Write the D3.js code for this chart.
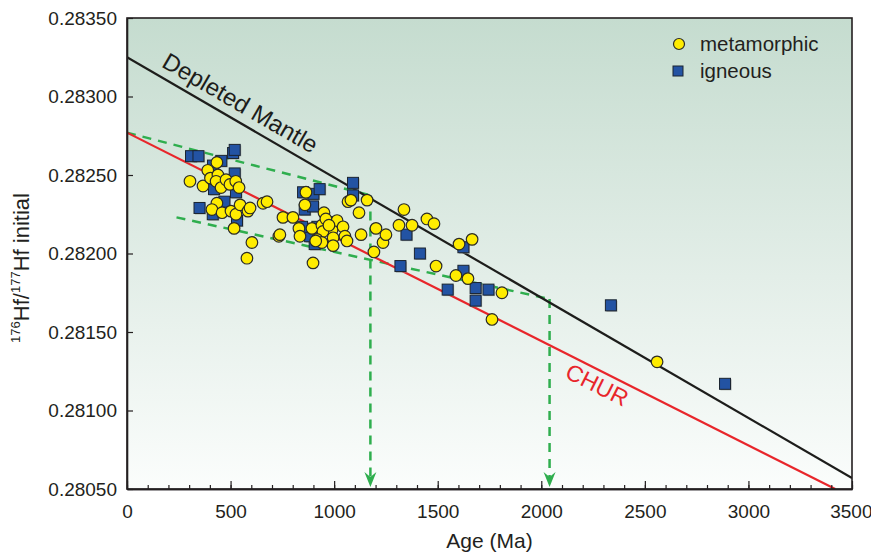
<!DOCTYPE html>
<html><head><meta charset="utf-8">
<script src="https://cdn.jsdelivr.net/npm/d3@7"></script>
<style>
body{margin:0;background:#fff;}
svg{display:block;font-family:"Liberation Sans",Arial,Helvetica,sans-serif;}
</style></head>
<body>
<svg id="chart" width="871" height="554"></svg>
<script>
// ---------- data ----------
const xTicksMajor = [0,500,1000,1500,2000,2500,3000,3500];
const xTicksMinor = d3.range(0,3501,100);
const yTicks = [0.28050,0.28100,0.28150,0.28200,0.28250,0.28300,0.28350];

const igneousAge = [309,345,415,455,512,520,520,526,420,350,414,470,531,
  850,900,930,858,898,919,906,884,966,845,1091,1091,
  1349,1414,1320,1624,1624,1548,1683,1683,1745,2336,2887];
const igneousHf = [0.28262,0.28262,0.28256,0.28259,0.28264,0.28266,0.28251,0.28239,0.28241,0.28229,0.28225,0.28233,0.28221,
  0.28239,0.28238,0.28241,0.28228,0.28230,0.28217,0.28206,0.28211,0.28220,0.28217,0.28245,0.28237,
  0.28212,0.28200,0.28192,0.28189,0.28204,0.28177,0.28178,0.28170,0.28177,0.28167,0.28117];

const metaAge = [304,367,390,434,403,439,430,454,478,497,525,541,434,410,459,502,526,546,584,594,517,657,676,603,579,733,738,
  864,859,753,801,830,835,893,951,941,990,1014,1043,946,917,941,995,995,1052,1062,898,1067,1081,1159,1120,1202,1130,1236,1250,1192,911,960,975,
  1337,1313,1376,1448,1482,1603,1666,1492,1588,1646,1810,1762,2559];
const metaHf = [0.28246,0.28243,0.28253,0.28258,0.28248,0.28250,0.28246,0.28242,0.28247,0.28244,0.28246,0.28242,0.28232,0.28228,0.28226,0.28227,0.28225,0.28231,0.28227,0.28229,0.28216,0.28232,0.28233,0.28207,0.28197,0.28211,0.28212,
  0.28239,0.28231,0.28223,0.28223,0.28216,0.28211,0.28216,0.28226,0.28218,0.28215,0.28221,0.28217,0.28214,0.28209,0.28207,0.28210,0.28205,0.28211,0.28208,0.28194,0.28233,0.28234,0.28234,0.28226,0.28216,0.28212,0.28207,0.28212,0.28201,0.28208,0.28222,0.28218,
  0.28228,0.28218,0.28218,0.28222,0.28219,0.28206,0.28209,0.28192,0.28186,0.28184,0.28175,0.28158,0.28131];

const depletedMantle = [[0,0.28325],[3500,0.28057]];
const chur = [[0,0.28277],[3419,0.28050]];
const dashUpper = [[0,0.28277],[1175,0.28237]];
const dashLower = [[239,0.28223],[2040,0.28171]];
const modelAges = [[1175,0.28237],[2040,0.28171]];

// ---------- layout ----------
const svg = d3.select("#chart");
const L=127,R=852,T=18,B=489;
const x = d3.scaleLinear().domain([0,3500]).range([L,R]);
const y = d3.scaleLinear().domain([0.2805,0.2835]).range([B,T]);

const defs = svg.append("defs");
const grad = defs.append("linearGradient").attr("id","bg").attr("x1",0).attr("y1",0).attr("x2",0).attr("y2",1);
grad.append("stop").attr("offset","0%").attr("stop-color","#c5dccf");
grad.append("stop").attr("offset","55%").attr("stop-color","#e3eee8");
grad.append("stop").attr("offset","100%").attr("stop-color","#fbfdfc");
defs.append("clipPath").attr("id","clip").append("rect").attr("x",L).attr("y",T).attr("width",R-L).attr("height",B-T);

svg.append("rect").attr("x",L).attr("y",T).attr("width",R-L).attr("height",B-T).attr("fill","url(#bg)");

const line = d3.line().x(d=>x(d[0])).y(d=>y(d[1]));
const g = svg.append("g").attr("clip-path","url(#clip)");

const green = "#2fae4e";
[dashUpper,dashLower].forEach(d=>{
  g.append("path").attr("d",line(d)).attr("fill","none").attr("stroke",green).attr("stroke-width",2.5).attr("stroke-dasharray","9,7");
});
modelAges.forEach(d=>{
  g.append("line").attr("x1",x(d[0])).attr("x2",x(d[0])).attr("y1",y(d[1])).attr("y2",y(0.2805)-12)
    .attr("stroke",green).attr("stroke-width",2.5).attr("stroke-dasharray","9,7");
  g.append("path").attr("transform",`translate(${x(d[0])},${y(0.2805)-2})`)
    .attr("d","M0,0 L-6,-15 L0,-10 L6,-15 Z").attr("fill",green);
});

g.append("path").attr("d",line(chur)).attr("fill","none").attr("stroke","#e8262b").attr("stroke-width",2.2);
g.append("path").attr("d",line(depletedMantle)).attr("fill","none").attr("stroke","#1d1d1b").attr("stroke-width",2.2);

function lineLabel(pts, t, offset, text, color, size){
  const x0=x(pts[0][0]), y0=y(pts[0][1]), x1=x(pts[1][0]), y1=y(pts[1][1]);
  const ang = Math.atan2(y1-y0,x1-x0)*180/Math.PI;
  const v0 = pts[0][1] + (pts[1][1]-pts[0][1])*(t-pts[0][0])/(pts[1][0]-pts[0][0]);
  svg.append("g").attr("transform",`translate(${x(t)},${y(v0)}) rotate(${ang})`)
    .append("text").attr("x",0).attr("y",offset).attr("text-anchor","middle")
    .attr("font-size",size).attr("fill",color).text(text);
}
lineLabel(depletedMantle, 505, -9, "Depleted Mantle", "#1d1d1b", 24);
lineLabel(chur, 2300, 22, "CHUR", "#e8262b", 23);

const igneous = igneousAge.map((a,i)=>[a,igneousHf[i]]);
const meta = metaAge.map((a,i)=>[a,metaHf[i]]);
const s=11;
g.selectAll("rect.sh").data(igneous).join("rect").attr("class","sh")
  .attr("x",d=>x(d[0])-s/2+1).attr("y",d=>y(d[1])-s/2+1).attr("width",s).attr("height",s).attr("fill","#8a8f8c").attr("opacity",0.7);
g.selectAll("rect.ig").data(igneous).join("rect").attr("class","ig")
  .attr("x",d=>x(d[0])-s/2).attr("y",d=>y(d[1])-s/2).attr("width",s).attr("height",s)
  .attr("fill","#2353a3").attr("stroke","#1b2430").attr("stroke-width",1);
g.selectAll("circle.mt").data(meta).join("circle").attr("class","mt")
  .attr("cx",d=>x(d[0])).attr("cy",d=>y(d[1])).attr("r",5.8)
  .attr("fill","#ffec00").attr("stroke","#2b2b26").attr("stroke-width",1.2);

svg.append("rect").attr("x",L).attr("y",T).attr("width",R-L).attr("height",B-T).attr("fill","none").attr("stroke","#231f20").attr("stroke-width",1.6);

const tc="#231f20";
const xMinor = svg.append("g").attr("transform",`translate(0,${B})`)
  .call(d3.axisBottom(x).tickValues(xTicksMinor).tickSize(-4).tickSizeOuter(0).tickFormat(""));
const xMajor = svg.append("g").attr("transform",`translate(0,${B})`)
  .call(d3.axisBottom(x).tickValues(xTicksMajor).tickSize(-8).tickSizeOuter(0).tickPadding(16).tickFormat(d3.format("d")));
const yAx = svg.append("g").attr("transform",`translate(${L},0)`)
  .call(d3.axisLeft(y).tickValues(yTicks).tickSize(-6).tickSizeOuter(0).tickPadding(10).tickFormat(d3.format(".5f")));
[xMinor,xMajor,yAx].forEach(a=>{
  a.select(".domain").attr("stroke",tc).attr("stroke-width",1.6);
  a.selectAll(".tick line").attr("stroke",tc).attr("stroke-width",1.2);
  a.selectAll(".tick text").attr("fill",tc).attr("font-size",19).attr("font-family","Liberation Sans, Arial, sans-serif");
});
xMajor.selectAll(".tick text").filter(d=>d===3500).attr("text-anchor","end").attr("dx",20);

svg.append("text").attr("x",(L+R)/2).attr("y",548).attr("text-anchor","middle").attr("font-size",21).attr("fill",tc).text("Age (Ma)");
const yt = svg.append("text").attr("transform","translate(29,268) rotate(-90)").attr("text-anchor","middle").attr("font-size",22).attr("fill",tc);
yt.append("tspan").attr("font-size",13).attr("dy",-9).text("176");
yt.append("tspan").attr("dy",9).text("Hf/");
yt.append("tspan").attr("font-size",13).attr("dy",-9).text("177");
yt.append("tspan").attr("dy",9).text("Hf initial");

const lg = svg.append("g");
lg.append("circle").attr("cx",679).attr("cy",44).attr("r",5.5).attr("fill","#ffec00").attr("stroke","#2b2b26").attr("stroke-width",1.2);
lg.append("text").attr("x",700).attr("y",51).attr("font-size",20.5).attr("fill",tc).text("metamorphic");
lg.append("rect").attr("x",673).attr("y",66).attr("width",10).attr("height",10).attr("fill","#2353a3").attr("stroke","#1b2430");
lg.append("text").attr("x",700).attr("y",78).attr("font-size",20.5).attr("fill",tc).text("igneous");
</script>
</body></html>
